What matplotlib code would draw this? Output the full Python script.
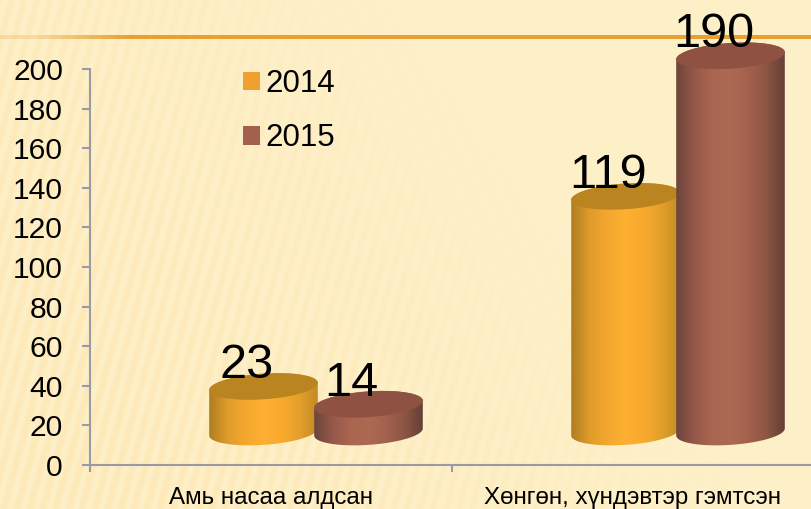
import numpy as np
import matplotlib
matplotlib.use('Agg')
import matplotlib.pyplot as plt
from matplotlib.colors import LinearSegmentedColormap
from matplotlib.patches import Patch, PathPatch
from matplotlib.path import Path
from matplotlib.transforms import Affine2D

plt.rcParams['font.family'] = ['Liberation Sans', 'DejaVu Sans']

categories = ['Амь насаа алдсан', 'Хөнгөн, хүндэвтэр гэмтсэн']
years = ['2014', '2015']
values_2014 = [23, 119]
values_2015 = [14, 190]
y_ticks = list(range(0, 201, 20))

W, H = 811, 509
fig = plt.figure(figsize=(W / 100, H / 100), dpi=100)

# fond raye
yy, xx = np.mgrid[0:H, 0:W]
stripes = 0.5 + 0.5 * np.sin((xx + (H - yy) * -0.27) * 2 * np.pi / 13)
fade = np.clip(1.0 - (xx / 640.0) + (yy - 250) / 900.0, 0.12, 1)
bg = np.ones((H, W, 3)) * np.array([253, 240, 200]) / 255
bg = bg - (stripes * fade)[..., None] * np.array([0.0, 0.03, 0.065])
fade_line = np.clip(xx[35:39] / 130.0, 0.25, 1)[..., None]
bg[35:39] = bg[35:39] * (1 - fade_line) + np.array([233, 160, 50]) / 255 * fade_line
ax_bg = fig.add_axes([0, 0, 1, 1], zorder=0)
ax_bg.imshow(bg, aspect='auto', interpolation='bilinear')
ax_bg.axis('off')

ax = fig.add_axes([90 / W, (H - 465) / H, 724 / W, 396 / H], zorder=1)
ax.patch.set_alpha(0)

# decalage du plancher 3D, en pixels
depth = ax.transData + Affine2D().translate(45, 33)

orange = LinearSegmentedColormap.from_list('o', ['#B07E22', '#E09C2A', '#F4A72F', '#FFB032', '#F8AA2E', '#E4A02B', '#C48C24'])
brun = LinearSegmentedColormap.from_list('b', ['#6E463C', '#96594A', '#AA6650', '#AD6A52', '#A3604D', '#8C5744', '#664038'])
top_colors = ['#BA8521', '#8F5242']
half_w = 0.15
half_h = 6.5
shear = 12


def cylinder(xc, value, cmap, top_color, z):
    t = np.linspace(0, np.pi, 60)
    ex = half_w * np.cos(t)
    ey = half_h * np.sin(t) + shear * ex
    ex2 = half_w * np.cos(t + np.pi)
    ey2 = half_h * np.sin(t + np.pi) + shear * ex2
    # corps : moitie haute du dessus puis moitie basse du dessous
    body = np.vstack([
        np.column_stack([xc + ex, value + ey]),
        np.column_stack([xc + ex2, ey2]),
    ])
    body_patch = PathPatch(Path(np.vstack([body, body[0]]), closed=True), fc='none', ec='none',
                           transform=depth, zorder=z, clip_on=False)
    ax.add_patch(body_patch)
    im = ax.imshow(np.linspace(0, 1, 64).reshape(1, -1), cmap=cmap, aspect='auto',
                   extent=[xc - half_w, xc + half_w, -30, 210], transform=depth,
                   zorder=z, interpolation='bilinear')
    im.set_clip_box(fig.bbox)
    im.set_clip_path(body_patch)
    top = np.column_stack([xc + np.r_[ex, ex2], value + np.r_[ey, ey2]])
    ax.add_patch(PathPatch(Path(np.vstack([top, top[0]]), closed=True), fc=top_color, ec='none',
                           transform=depth, zorder=z + 0.1, clip_on=False))


for i in range(len(categories)):
    x1 = i + 0.5 - 0.145
    x2 = i + 0.5 + 0.145
    cylinder(x1, values_2014[i], orange, top_colors[0], 3)
    cylinder(x2, values_2015[i], brun, top_colors[1], 4)
    for x, v in ((x1, values_2014[i]), (x2, values_2015[i])):
        ax.annotate(str(v), xy=(x, v), xycoords=depth, xytext=(-17, 21), textcoords='offset pixels',
                    ha='center', va='center', fontsize=35, color='black', zorder=6, annotation_clip=False)

ax.set_xlim(0, 2)
ax.set_ylim(0, 200)
ax.set_yticks(y_ticks)
ax.set_xticks([0, 1, 2])
ax.set_xticklabels([])
ax.set_xticks([0.5, 1.5], minor=True)
ax.set_xticklabels(categories, minor=True, fontsize=17.4)

for s in ('top', 'right'):
    ax.spines[s].set_visible(False)
for s in ('left', 'bottom'):
    ax.spines[s].set_color('#9A9AA6')
    ax.spines[s].set_linewidth(1.5)
ax.tick_params(axis='y', length=6, width=1.5, color='#9A9AA6', labelsize=21.6, pad=13.5, labelcolor='black')
ax.tick_params(axis='x', which='major', length=5, width=1.5, color='#9A9AA6')
ax.tick_params(axis='x', which='minor', length=0, pad=16, labelcolor='black')

handles = [Patch(fc='#EFA12F', ec='none'), Patch(fc='#A2614E', ec='none')]
leg = fig.legend(handles, years, loc='upper left', bbox_to_anchor=(243 / W, 1 - 69 / H), frameon=False,
                 fontsize=22.5, handlelength=0.53, handleheight=0.53, handletextpad=0.18,
                 labelspacing=0.78, borderpad=0, borderaxespad=0)
leg.set_zorder(7)

fig.savefig('out.png', dpi=100)
